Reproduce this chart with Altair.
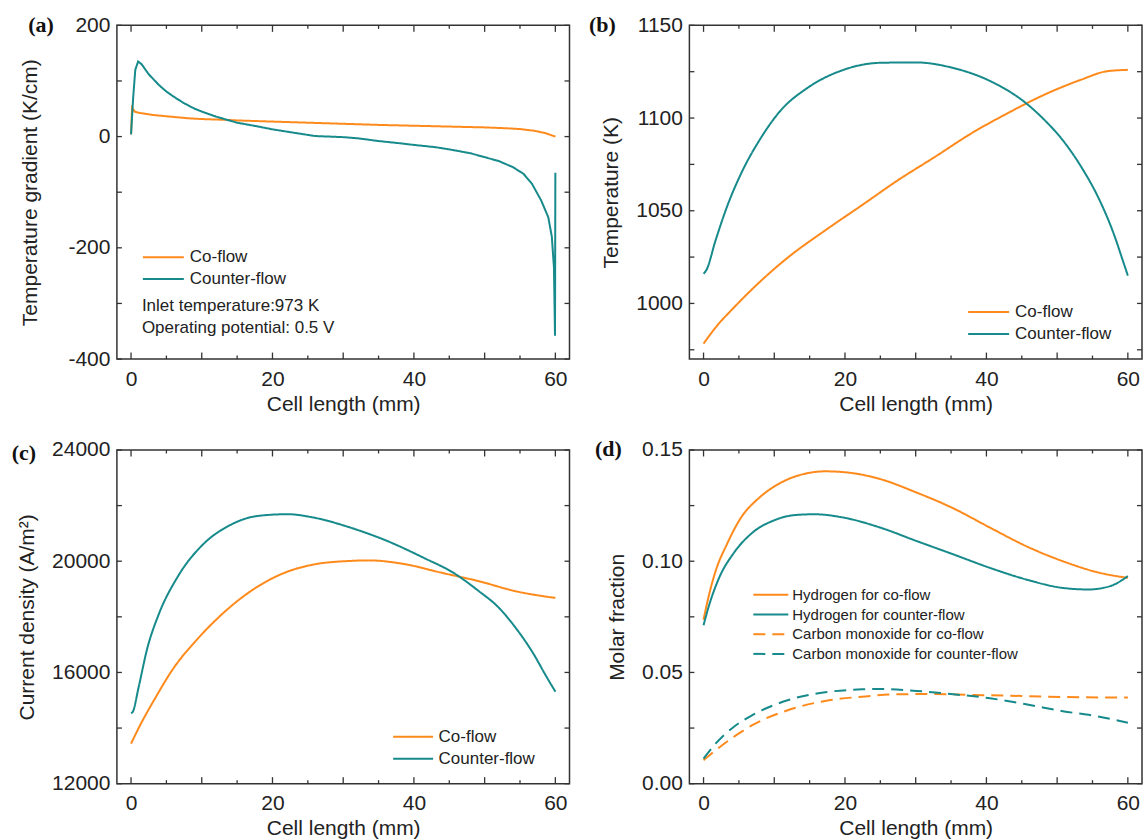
import altair as alt
import pandas as pd

ORANGE = "#FF8A1C"
TEAL = "#178A8B"
TICK = "#333333"

# ---------------- data ----------------
cell_x_major = [0, 10, 20, 30, 40, 50, 60]
cell_x_minor = [5, 15, 25, 35, 45, 55]

# (a) temperature gradient (K/cm)
a_co_x = [0, 0.15, 0.5, 1, 3, 5, 8, 10, 13.6, 15, 20, 25, 30, 35, 40, 45, 50, 53, 55, 57, 58.5, 60]
a_co_y = [4, 52, 45, 43, 39, 36.5, 33, 31.5, 30, 29, 27, 25, 23, 21, 19.5, 18, 16.5, 15, 13.5, 10.5, 6.5, 0]
a_counter_x = [0, 0.3, 0.6, 1.0, 1.5, 2.5, 4, 5, 6, 7.5, 9, 10, 12, 13.6, 15, 18, 20, 23, 26, 28, 30,
               32, 35, 38, 40, 43, 45, 48, 50, 52, 54, 55.5, 56.7, 58, 59, 59.5, 59.8, 59.95, 60]
a_counter_y = [4, 70, 120, 135, 130, 112, 92, 81, 72, 60, 50, 45, 36, 30, 25, 18, 13, 7, 1, 0, -1,
               -3, -8, -12, -15, -19, -23, -30, -37, -44, -55, -67, -85, -115, -145, -180, -235, -358, -65]
a_yticks = [-400, -300, -200, -100, 0, 100, 200]

# (b) temperature (K)
b_co_x = [0, 1.7, 4.3, 6.9, 12, 17.2, 22.4, 27.5, 32.7, 37.9, 43, 48.2, 53.4, 57, 60]
b_co_y = [978.3, 987, 997.8, 1007.8, 1025, 1039.4, 1053, 1066.5, 1079, 1091.8, 1102.6, 1112.6, 1120.7, 1125.2, 1126]
b_counter_x = [0, 0.4, 1.7, 3.3, 5.3, 7.9, 11, 14.6, 19.8, 25, 30, 35.3, 40.5, 45.6, 48.2, 50.8, 53.4, 56, 58, 59.3, 60]
b_counter_y = [1016, 1018, 1034, 1052, 1070, 1088, 1104.5, 1116, 1126, 1129.8, 1130, 1127, 1120, 1108, 1099, 1088,
               1073.7, 1055.7, 1037.6, 1023, 1015]
b_yticks = [975, 1000, 1025, 1050, 1075, 1100, 1125, 1150]

# (c) current density (A/m2)
c_co_x = [0, 1.3, 3.4, 6, 9.1, 12.8, 16.9, 21.1, 25.8, 31, 33.6, 38.8, 44, 49.2, 54.4, 60]
c_co_y = [13440, 14110, 15070, 16150, 17120, 18080, 18920, 19520, 19880, 20010, 20030, 19890, 19580, 19280, 18920, 18680]
c_counter_x = [0, 0.26, 1.04, 2.3, 3.9, 6.5, 10.2, 13.8, 18, 22.1, 25.8, 31, 36.2, 41.4, 45.6, 49.2, 51.8, 54.4, 57, 58.6, 60]
c_counter_y = [14530, 14590, 15430, 16870, 18080, 19400, 20610, 21270, 21630, 21690, 21570, 21210, 20730, 20120,
               19580, 18920, 18380, 17600, 16630, 15910, 15310]
c_yticks = [12000, 14000, 16000, 18000, 20000, 22000, 24000]

# (d) molar fraction
d_h2_co_x = [0, 0.67, 1.7, 3.3, 5.3, 7.9, 11, 14.6, 17.2, 20.3, 25, 30.1, 35.3, 40.5, 45.6, 50.8, 56, 60]
d_h2_co_y = [0.0737, 0.0835, 0.0955, 0.1076, 0.1196, 0.1286, 0.1354, 0.1395, 0.1404, 0.1399, 0.1369, 0.1309,
             0.1238, 0.1151, 0.1068, 0.1000, 0.0948, 0.0925]
d_h2_counter_x = [0, 0.67, 2.2, 4.3, 6.9, 10, 13.1, 15.7, 19.8, 25, 30.1, 35.3, 40.5, 45.6, 50.8, 54.4, 57.5, 60]
d_h2_counter_y = [0.0712, 0.079, 0.0925, 0.1038, 0.1128, 0.1184, 0.1208, 0.1211, 0.1196, 0.1151, 0.1091, 0.1031,
                  0.097, 0.0918, 0.088, 0.0873, 0.0888, 0.0933]
d_co_co_x = [0, 1.7, 4.3, 6.9, 12, 17.2, 22.4, 27.5, 32.7, 37.9, 43, 48.2, 60]
d_co_co_y = [0.0105, 0.015, 0.0211, 0.0263, 0.0331, 0.0372, 0.0391, 0.0402, 0.0403, 0.0399, 0.0396, 0.0391, 0.0387]
d_co_counter_x = [0, 1.7, 4.3, 6.9, 12, 17.2, 22.4, 25, 30.1, 35.3, 40.5, 45.6, 50.8, 56, 60]
d_co_counter_y = [0.0113, 0.018, 0.0256, 0.0308, 0.0376, 0.0411, 0.0424, 0.0426, 0.0417, 0.0402, 0.0384, 0.0357,
                  0.0326, 0.0301, 0.0274]
d_yticks = [0, 0.025, 0.05, 0.075, 0.1, 0.125, 0.15]

flow_names = ["Co-flow", "Counter-flow"]
d_names = ["Hydrogen for co-flow", "Hydrogen for counter-flow",
           "Carbon monoxide for co-flow", "Carbon monoxide for counter-flow"]
annot_lines = ["Inlet temperature:973 K", "Operating potential: 0.5 V"]


def make_df(pairs, names):
    frames = []
    for (xs, ys), n in zip(pairs, names):
        frames.append(pd.DataFrame({"x": xs, "y": ys, "series": n}))
    return pd.concat(frames, ignore_index=True)


df_a = make_df([(a_co_x, a_co_y), (a_counter_x, a_counter_y)], flow_names)
df_b = make_df([(b_co_x, b_co_y), (b_counter_x, b_counter_y)], flow_names)
df_c = make_df([(c_co_x, c_co_y), (c_counter_x, c_counter_y)], flow_names)
df_d = make_df([(d_h2_co_x, d_h2_co_y), (d_h2_counter_x, d_h2_counter_y),
                (d_co_co_x, d_co_co_y), (d_co_counter_x, d_co_counter_y)], d_names)

W, H = 453, 334
FONT = "Liberation Sans"
X_LABEL_EXPR = "datum.value % 20 === 0 ? '' + datum.value : ''"
MAJ, MIN, YT = 6.5, 3.5, 5


def panel(df, names, colors, dashes, ydom, yvals, ylabel_expr, ytitle, ytitle_pad, leg, tag, tag_xy,
          interp="monotone", notes=None):
    xs = alt.Scale(domain=[-2, 62], nice=False, zero=False)
    ys = alt.Scale(domain=ydom, nice=False, zero=False)
    s = leg["box"]
    half = leg["half"] / (s / 2.0)
    legend = alt.Legend(orient="none", legendX=leg["cx"] - s / 2.0, legendY=leg["y0"] - s / 2.0, title=None,
                        symbolType=f"M{-half:.3f},0H{half:.3f}", symbolSize=s * s, symbolStrokeWidth=2,
                        labelFontSize=leg["fs"], labelFont=FONT, labelColor="#222", labelLimit=500,
                        rowPadding=leg["dy"] - s, labelOffset=leg["lx"] - (leg["cx"] + s / 2.0), padding=0)
    main = alt.Chart(df).mark_line(strokeWidth=2, interpolate=interp).encode(
        x=alt.X("x:Q", scale=xs, axis=alt.Axis(orient="bottom", values=cell_x_major, labelExpr=X_LABEL_EXPR,
                                                ticks=False, domain=False, grid=False, labelPadding=9,
                                                title="Cell length (mm)", titlePadding=4)),
        y=alt.Y("y:Q", scale=ys, axis=alt.Axis(orient="left", values=yvals, labelExpr=ylabel_expr,
                                                ticks=False, domain=False, grid=False, labelPadding=7,
                                                title=ytitle, titlePadding=ytitle_pad)),
        color=alt.Color("series:N", scale=alt.Scale(domain=names, range=colors), legend=legend),
        strokeDash=alt.StrokeDash("series:N", scale=alt.Scale(domain=names, range=dashes), legend=legend),
    )
    # inward ticks on all four sides, placed by the shared scales
    xmaj = alt.Chart(pd.DataFrame({"x": cell_x_major})).mark_rule(color=TICK, strokeWidth=1.3)
    xmin = alt.Chart(pd.DataFrame({"x": cell_x_minor})).mark_rule(color=TICK, strokeWidth=1.3)
    ytk = alt.Chart(pd.DataFrame({"y": yvals})).mark_rule(color=TICK, strokeWidth=1.3)
    tick_layers = [
        xmaj.encode(x=alt.X("x:Q", scale=xs), y=alt.value(H), y2=alt.value(H - MAJ)),
        xmaj.encode(x=alt.X("x:Q", scale=xs), y=alt.value(0), y2=alt.value(MAJ)),
        xmin.encode(x=alt.X("x:Q", scale=xs), y=alt.value(H), y2=alt.value(H - MIN)),
        xmin.encode(x=alt.X("x:Q", scale=xs), y=alt.value(0), y2=alt.value(MIN)),
        ytk.encode(y=alt.Y("y:Q", scale=ys), x=alt.value(0), x2=alt.value(YT)),
        ytk.encode(y=alt.Y("y:Q", scale=ys), x=alt.value(W), x2=alt.value(W - YT)),
    ]
    label = alt.Chart(alt.Data(values=[{}])).mark_text(
        text=tag, font="Liberation Serif", fontWeight="bold", fontSize=22,
        align="center", baseline="middle", color="#111"
    ).encode(x=alt.value(tag_xy[0]), y=alt.value(tag_xy[1]))
    layers = [main] + tick_layers + [label]
    if notes:
        for i, line in enumerate(notes["lines"]):
            layers.append(alt.Chart(alt.Data(values=[{}])).mark_text(
                text=line, font=FONT, fontSize=notes["fs"], align="left", baseline="middle", color="#222"
            ).encode(x=alt.value(notes["x"]), y=alt.value(notes["y"] + i * notes["dy"])))
    return alt.layer(*layers).properties(width=W, height=H)


solid = [[1, 0], [1, 0]]
pa = panel(df_a, flow_names, [ORANGE, TEAL], solid, [-400, 200], a_yticks,
           "datum.value % 200 === 0 ? '' + datum.value : ''", "Temperature gradient (K/cm)", 27,
           {"cx": 45.5, "half": 20.5, "box": 18, "y0": 231, "dy": 22, "lx": 71, "fs": 17}, "(a)", (-76, 0),
           interp="linear",
           notes={"lines": annot_lines, "x": 25, "y": 281, "dy": 22, "fs": 17})
pb = panel(df_b, flow_names, [ORANGE, TEAL], solid, [970, 1150], b_yticks,
           "datum.value % 50 === 0 ? '' + datum.value : ''", "Temperature (K)", 14,
           {"cx": 298.5, "half": 20.5, "box": 18, "y0": 286, "dy": 22, "lx": 324, "fs": 17}, "(b)", (-87, 0))
pc = panel(df_c, flow_names, [ORANGE, TEAL], solid, [12000, 24000], c_yticks,
           "datum.value % 4000 === 0 ? '' + datum.value : ''", "Current density (A/m²)", 14,
           {"cx": 295.5, "half": 20, "box": 18, "y0": 286, "dy": 22, "lx": 320, "fs": 17}, "(c)", (-93, 3))
pd_ = panel(df_d, d_names, [ORANGE, TEAL, ORANGE, TEAL], [[1, 0], [1, 0], [12, 7], [12, 7]], [0, 0.15], d_yticks,
            "round(datum.value * 1000) % 50 === 0 ? format(datum.value, '.2f') : ''", "Molar fraction", 14,
            {"cx": 80.5, "half": 17.5, "box": 16, "y0": 144, "dy": 18.7, "lx": 101, "fs": 15}, "(d)", (-81, -1))

chart = alt.concat(pa, pb, pc, pd_, columns=2, spacing={"row": 91, "column": 120}, bounds="flush").resolve_scale(
    color="independent", strokeDash="independent"
).properties(
    padding={"left": 11, "top": 13, "right": 0, "bottom": 0}, background="white"
).configure_view(
    stroke="#333", strokeWidth=1.5
).configure_axis(
    labelFont=FONT, titleFont=FONT, labelFontSize=21,
    titleFontSize=21, titleFontWeight="normal", labelColor="#222", titleColor="#222",
    labelFlush=False, labelOverlap=False
)

chart.save("out.html", embed_options={"renderer": "svg", "actions": False})
